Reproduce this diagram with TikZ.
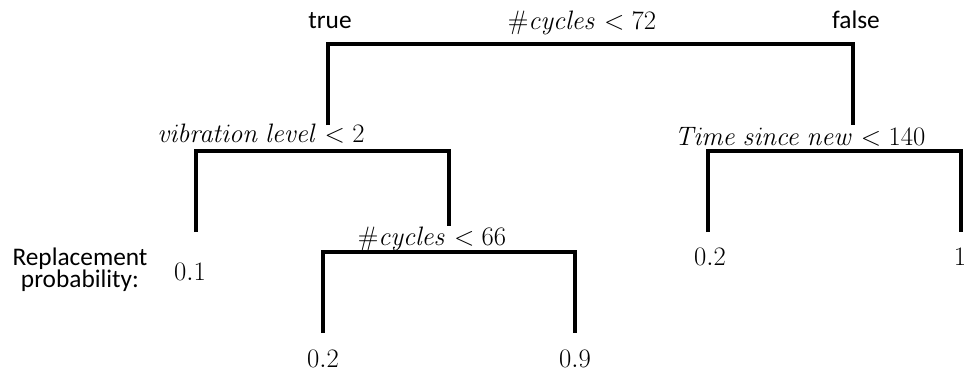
\RequirePackage{fix-cm}
\documentclass[tikz,border=0pt]{standalone}
\usepackage[no-math]{fontspec}
\setmainfont{Carlito}
\begin{document}
\begin{tikzpicture}[x=0.75pt,y=-0.75pt,
  lbl/.style={inner sep=0pt, anchor=base, font=\fontsize{19}{23}\selectfont},
  mlbl/.style={inner sep=0pt, anchor=base, font=\fontsize{20}{24}\selectfont},
  branch/.style={line width=2.3pt, line join=miter}]
\useasboundingbox (0,0) rectangle (968,371);

% split labels
\node[mlbl] (root) at (582,30) {$\#\mathit{cycles} < 72$};
\node[lbl] (ttrue) at (330,28) {true};
\node[lbl] (tfalse) at (856,28) {false};
\node[mlbl] (vib) at (261,142) {$\mathit{vibration\ level} < 2$};
\node[mlbl] (tsn) at (800,145) {$\mathit{Time\ since\ new} < 140$};
\node[mlbl] (cyc) at (432,245) {$\#\mathit{cycles} < 66$};

% leaf labels
\node[lbl, align=center, font=\fontsize{19}{16.5}\selectfont] (repl) at (80,287)
  {Replacement\\probability:};
\node[mlbl] (l1) at (190,280) {$0.1$};
\node[mlbl] (l2) at (710,265) {$0.2$};
\node[mlbl] (l3) at (960,265) {$1$};
\node[mlbl] (l4) at (323,367) {$0.2$};
\node[mlbl] (l5) at (575,367) {$0.9$};

% bracket levels and attachment points
\coordinate (b1) at (590,44);
\coordinate (b1l) at (328,125);
\coordinate (b1r) at (853,125);
\coordinate (b2) at (320,151);
\coordinate (b2l) at (196,232);
\coordinate (b2r) at (449,226);
\coordinate (b3) at (834,151);
\coordinate (b3l) at (708,232);
\coordinate (b3r) at (961,232);
\coordinate (b4) at (449,252);
\coordinate (b4l) at (323,333);
\coordinate (b4r) at (575,333);

\draw[branch] (b1l) |- (b1) -| (b1r);
\draw[branch] (b2l) |- (b2) -| (b2r);
\draw[branch] (b3l) |- (b3) -| (b3r);
\draw[branch] (b4l) |- (b4) -| (b4r);
\end{tikzpicture}
\end{document}
